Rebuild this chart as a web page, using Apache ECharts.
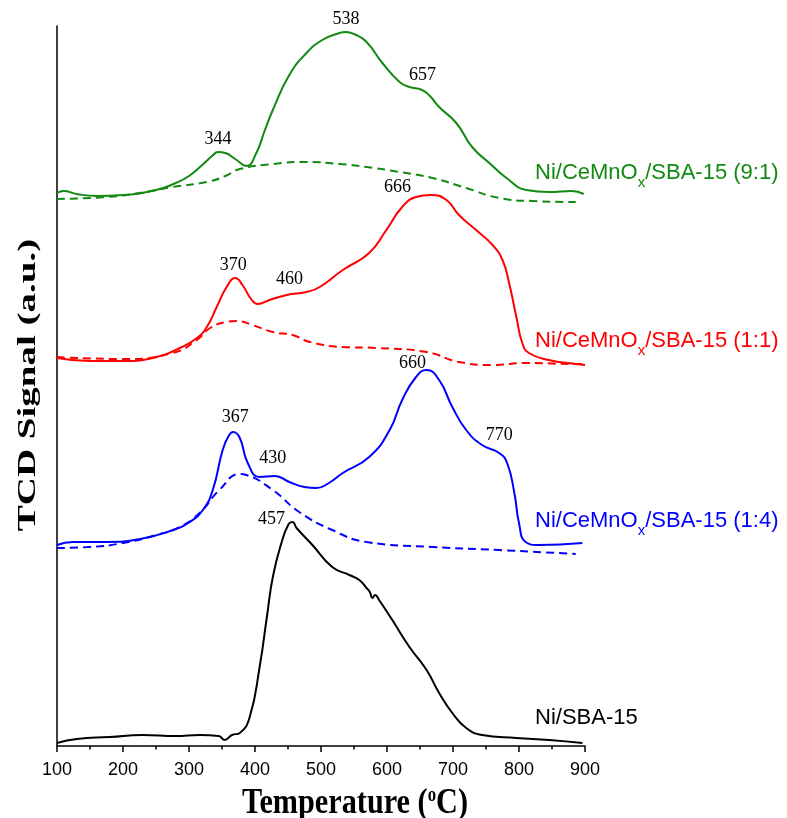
<!DOCTYPE html>
<html>
<head>
<meta charset="utf-8">
<script src="https://cdn.jsdelivr.net/npm/echarts@6/dist/echarts.min.js"></script>
<style>
  html, body { margin: 0; padding: 0; background: #fff; }
  #chart { width: 787px; height: 818px; }
</style>
</head>
<body>
<div id="chart"></div>
<script>
// H2-TPR profiles: [temperature (°C), TCD signal (a.u., stacked offsets)]
const tempTicks = [100, 200, 300, 400, 500, 600, 700, 800, 900];

const ni91Solid = [
  [100, 553], [110, 555], [130, 552], [160, 550], [200, 551], [250, 556], [280, 563],
  [300, 570], [320, 581], [335, 590], [344, 594], [355, 593], [370, 587], [387, 580],
  [402, 593], [415, 616], [427, 636], [452, 671], [478, 693], [502, 706], [528, 713],
  [538, 714], [550, 712], [569, 704], [593, 683], [619, 664], [634, 659], [653, 656],
  [665, 650], [679, 639], [705, 623], [729, 599], [755, 583], [781, 568], [811, 556],
  [846, 554], [880, 555], [898, 552]
];
const ni91Dashed = [
  [100, 547], [175, 549], [225, 553], [275, 559], [327, 564], [355, 570], [377, 577],
  [427, 582], [478, 584], [528, 582], [569, 579], [619, 574], [669, 568], [720, 558],
  [770, 548], [820, 545], [886, 544]
];
const ni11Solid = [
  [100, 388], [150, 385], [200, 385], [251, 389], [286, 398], [312, 408], [327, 419],
  [342, 439], [357, 459], [370, 468], [381, 461], [395, 446], [404, 442], [422, 446],
  [448, 451], [478, 454], [498, 459], [533, 476], [573, 493], [599, 516], [623, 539],
  [644, 549], [666, 551], [690, 546], [709, 531], [735, 516], [760, 501], [775, 486],
  [785, 463], [796, 429], [805, 403], [815, 393], [845, 386], [886, 382], [900, 381]
];
const ni11Dashed = [
  [100, 389], [200, 387], [275, 393], [312, 406], [332, 418], [357, 424], [372, 425],
  [396, 421], [427, 414], [457, 411], [483, 404], [533, 399], [584, 398], [660, 394],
  [709, 384], [760, 381], [811, 383], [886, 382], [900, 382]
];
const ni14Solid = [
  [100, 201], [124, 204], [175, 204], [226, 207], [276, 216], [301, 224], [321, 236],
  [336, 256], [351, 296], [360, 310], [367, 314], [377, 308], [389, 283], [407, 269],
  [430, 270], [452, 264], [475, 259], [493, 258], [512, 263], [533, 273], [573, 289],
  [604, 316], [623, 346], [644, 369], [660, 376], [679, 366], [699, 339], [720, 316],
  [744, 301], [770, 293], [782, 283], [793, 253], [800, 223], [810, 204], [830, 201],
  [896, 203]
];
const ni14Dashed = [
  [100, 198], [150, 199], [200, 203], [251, 211], [286, 219], [316, 233], [346, 256],
  [377, 272], [387, 271], [427, 256], [467, 234], [517, 216], [569, 204], [669, 199],
  [770, 196], [886, 192]
];
const niSba = [
  [100, 3], [130, 7], [180, 9], [230, 11], [280, 10], [316, 11], [345, 10], [354, 6],
  [365, 11], [377, 13], [392, 29], [407, 79], [418, 129], [427, 169], [440, 203],
  [451, 222], [457, 224], [463, 218], [487, 201], [517, 179], [543, 171], [558, 166],
  [569, 158], [574, 154], [578, 148], [582, 151], [588, 146], [608, 126], [634, 99],
  [660, 76], [679, 53], [699, 33], [720, 18], [744, 11], [796, 8], [846, 6], [896, 3]
];

// Reduction peak temperatures marked on each solid profile
const peaks91 = [344, 538, 657];
const peaks11 = [370, 460, 666];
const peaks14 = [367, 430, 660, 770];
const peaksSba = [457];

// Label nudges (px) for peak annotations: [dx, dy]
const peakLabelNudge = {
  344: [0, -13], 538: [0, -13], 657: [-2, -17],
  370: [-2, -13], 460: [-5, -15], 666: [-33, -8],
  367: [2, -15], 430: [-2, -18], 660: [-14, -7], 770: [0, -18],
  457: [-21, -3]
};

const GREEN = '#128a12', RED = '#ff0000', BLUE = '#0000ff', BLACK = '#000000';

function valueAt(data, t) {
  for (let i = 0; i < data.length - 1; i++) {
    const [x0, y0] = data[i], [x1, y1] = data[i + 1];
    if (t >= x0 && t <= x1) return y0 + (y1 - y0) * (t - x0) / (x1 - x0);
  }
  return data[data.length - 1][1];
}

const serif = '"Liberation Serif", "Times New Roman", serif';
const sans = '"Liberation Sans", Arial, sans-serif';

function peakMarks(data, temps) {
  return {
    symbol: 'circle',
    symbolSize: 0,
    silent: true,
    label: {
      show: true,
      position: 'inside',
      color: '#000',
      fontFamily: serif,
      fontSize: 18,
      formatter: p => String(p.data.coord[0])
    },
    data: temps.map(t => ({
      coord: [t, valueAt(data, t)],
      label: { offset: peakLabelNudge[t] || [0, -14] }
    }))
  };
}

function lineSeries(name, data, color, dashed, peaks) {
  const s = {
    name: name,
    type: 'line',
    data: data,
    showSymbol: false,
    smooth: 0.5,
    lineStyle: { color: color, width: 2, type: dashed ? [8, 5] : 'solid' },
    silent: true,
    z: dashed ? 2 : 3
  };
  if (peaks) s.markPoint = peakMarks(data, peaks);
  return s;
}

function sampleLabel(ratio, color, top) {
  return {
    type: 'text',
    left: 535,
    top: top,
    style: {
      text: ratio ? '{m|Ni/CeMnO}{s|x}{m|/SBA-15 (' + ratio + ')}' : '{m|Ni/SBA-15}',
      fill: color,
      rich: {
        m: { fontFamily: sans, fontSize: 22, color: color, lineHeight: 26, verticalAlign: 'bottom' },
        s: { fontFamily: sans, fontSize: 15, color: color, lineHeight: 26, verticalAlign: 'bottom', padding: [0, 0, -6, 0] }
      }
    }
  };
}

const chart = echarts.init(document.getElementById('chart'), null, { renderer: 'canvas' });

chart.setOption({
  animation: false,
  backgroundColor: '#fff',
  grid: { left: 57, right: 202, top: 26, bottom: 72, containLabel: false },
  xAxis: {
    type: 'value',
    min: tempTicks[0],
    max: tempTicks[tempTicks.length - 1],
    interval: 100,
    axisLine: { show: true, lineStyle: { color: '#000', width: 1.5 } },
    axisTick: { show: true, inside: false, length: 6, lineStyle: { color: '#000', width: 1.5 } },
    minorTick: { show: true, splitNumber: 2, length: 3.5, lineStyle: { color: '#000', width: 1.5 } },
    axisLabel: { color: '#000', fontFamily: sans, fontSize: 18, margin: 15 },
    splitLine: { show: false }
  },
  yAxis: {
    type: 'value',
    min: 0,
    max: 720,
    axisLine: { show: true, lineStyle: { color: '#000', width: 1.5 } },
    axisTick: { show: false },
    axisLabel: { show: false },
    splitLine: { show: false }
  },
  series: [
    lineSeries('Ni/CeMnOx/SBA-15 (9:1) dashed', ni91Dashed, GREEN, true),
    lineSeries('Ni/CeMnOx/SBA-15 (9:1)', ni91Solid, GREEN, false, peaks91),
    lineSeries('Ni/CeMnOx/SBA-15 (1:1) dashed', ni11Dashed, RED, true),
    lineSeries('Ni/CeMnOx/SBA-15 (1:1)', ni11Solid, RED, false, peaks11),
    lineSeries('Ni/CeMnOx/SBA-15 (1:4) dashed', ni14Dashed, BLUE, true),
    lineSeries('Ni/CeMnOx/SBA-15 (1:4)', ni14Solid, BLUE, false, peaks14),
    lineSeries('Ni/SBA-15', niSba, BLACK, false, peaksSba)
  ],
  graphic: [
    sampleLabel('9:1', GREEN, 162),
    sampleLabel('1:1', RED, 330),
    sampleLabel('1:4', BLUE, 510),
    sampleLabel(null, BLACK, 707),
    {
      // x-axis title (condensed bold serif)
      type: 'text',
      x: 355, y: 804,
      scaleX: 0.84,
      style: {
        text: 'Temperature ({sup|o}C)',
        align: 'center', verticalAlign: 'middle',
        font: 'bold 36px ' + serif,
        fill: '#000',
        rich: {
          sup: { fontFamily: serif, fontWeight: 'bold', fontSize: 20, fill: '#000', verticalAlign: 'top', padding: [0, 0, 16, 0] }
        }
      }
    },
    {
      // y-axis title, rotated and thinned across its height
      type: 'text',
      x: 28, y: 385,
      rotation: Math.PI / 2,
      scaleY: 0.65,
      style: {
        text: 'TCD Signal (a.u.)',
        align: 'center', verticalAlign: 'middle',
        font: 'bold 39px ' + serif,
        fill: '#000'
      }
    }
  ]
});
</script>
</body>
</html>
